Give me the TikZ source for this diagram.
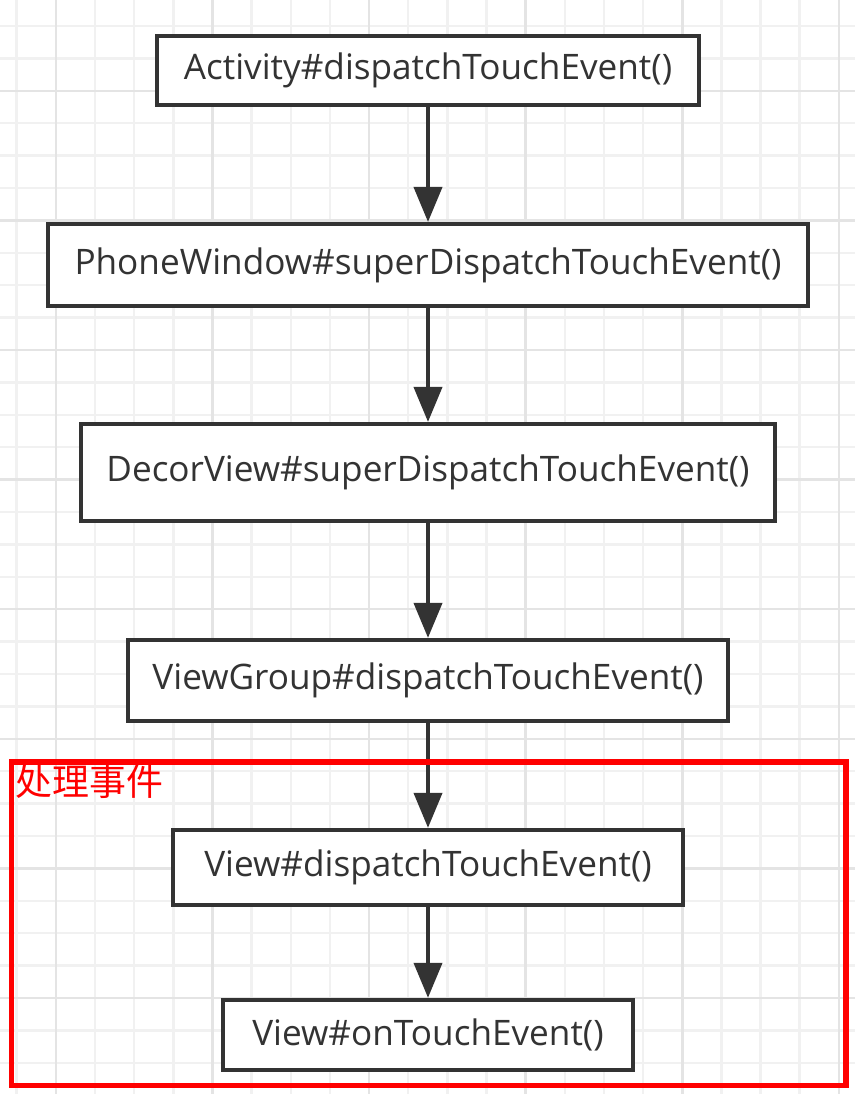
\documentclass[tikz,border=0pt]{standalone}
\usepackage{fontspec}
\setmainfont{Open Sans}
\newfontfamily\cjkfont{Noto Sans CJK SC}
\usetikzlibrary{arrows.meta, positioning}
\definecolor{ink}{HTML}{333333}
\definecolor{gridminor}{HTML}{F1F1F1}
\definecolor{gridmajor}{HTML}{E4E4E4}
\definecolor{alert}{HTML}{FF0000}
\tikzset{
  callbox/.style={
    rectangle, draw=ink, fill=white, line width=0.08cm,
    inner sep=0pt, align=center, text=ink,
    font=\fontsize{20}{24}\selectfont
  },
  flow/.style={-{Triangle[length=0.7cm,width=0.56cm]}, line width=0.08cm, draw=ink},
  zone/.style={draw=alert, line width=0.12cm},
  zonelabel/.style={text=alert, inner sep=0pt, anchor=north west,
    font=\cjkfont\fontsize{21}{24}\selectfont},
}

\begin{document}
\begin{tikzpicture}[x=0.02cm, y=0.02cm]
  \useasboundingbox (0,0) rectangle (855,1094);

  % background grid
  \foreach \k in {0,...,21}
    \draw[gridminor, line width=0.05cm] ({16.7+39.15*\k},0) -- ({16.7+39.15*\k},1094);
  \foreach \k in {0,...,33}
    \draw[gridminor, line width=0.05cm] (0,{1068-32.4*\k}) -- (855,{1068-32.4*\k});
  \foreach \k in {1,5,...,21}
    \draw[gridmajor, line width=0.05cm] ({16.7+39.15*\k},0) -- ({16.7+39.15*\k},1094);
  \foreach \k in {2,6,...,30}
    \draw[gridmajor, line width=0.05cm] (0,{1068-32.4*\k}) -- (855,{1068-32.4*\k});

  % call chain
  \node[callbox, minimum width=10.86cm, minimum height=1.38cm] (activity) at (428,1023.5) {Activity\#dispatchTouchEvent()};
  \node[callbox, below=2.3cm of activity, minimum width=15.2cm, minimum height=1.64cm] (phonewindow) {PhoneWindow\#superDispatchTouchEvent()};
  \node[callbox, below=2.28cm of phonewindow, minimum width=13.88cm, minimum height=1.94cm] (decorview) {DecorView\#superDispatchTouchEvent()};
  \node[callbox, below=2.3cm of decorview, minimum width=12cm, minimum height=1.62cm] (viewgroup) {ViewGroup\#dispatchTouchEvent()};
  \node[callbox, below=2.1cm of viewgroup, minimum width=10.22cm, minimum height=1.5cm] (viewdispatch) {View\#dispatchTouchEvent()};
  \node[callbox, below=1.82cm of viewdispatch, minimum width=8.22cm, minimum height=1.4cm] (ontouch) {View\#onTouchEvent()};

  \draw[flow] (activity) -- (phonewindow);
  \draw[flow] (phonewindow) -- (decorview);
  \draw[flow] (decorview) -- (viewgroup);
  \draw[flow] (viewgroup) -- (viewdispatch);
  \draw[flow] (viewdispatch) -- (ontouch);

  % handling zone
  \draw[zone] (11.5,8.5) rectangle (845.5,331.5);
  \node[zonelabel] (handle) at (15,330) {处理事件};
\end{tikzpicture}
\end{document}
